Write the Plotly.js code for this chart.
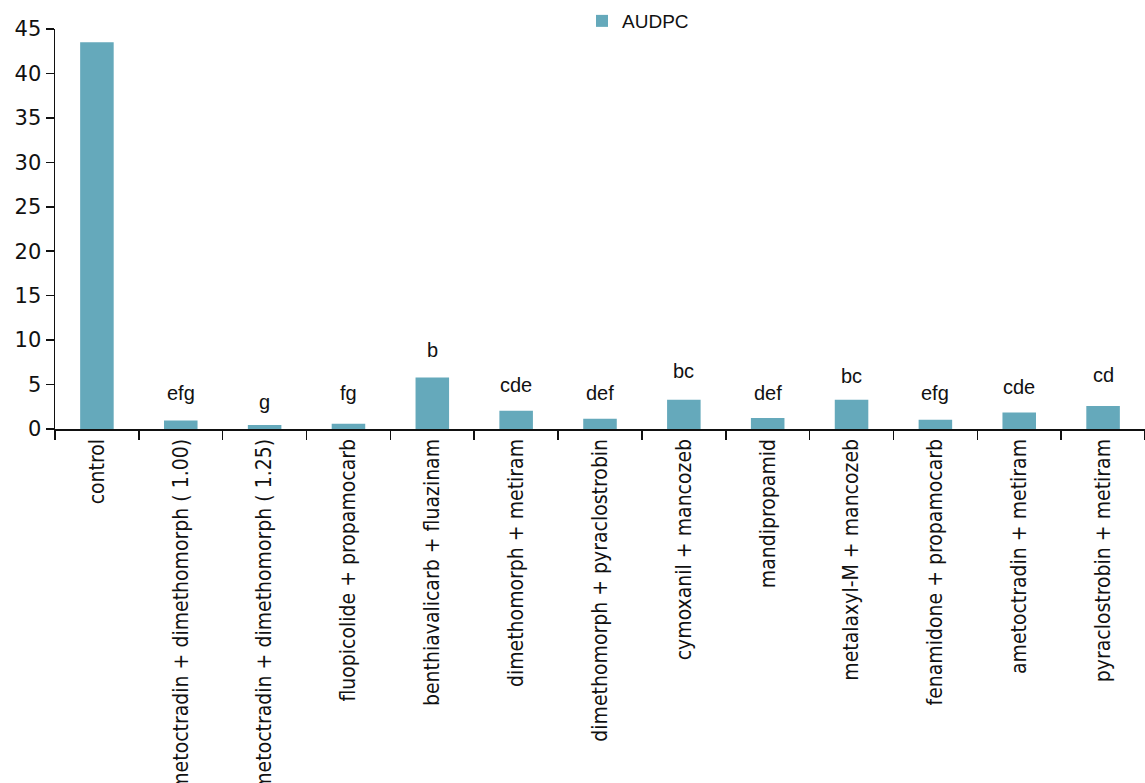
<!DOCTYPE html>
<html>
<head>
<meta charset="utf-8">
<script src="https://cdn.plot.ly/plotly-3.0.1.min.js"></script>
<style>html,body{margin:0;padding:0;background:#fff;overflow:hidden}#chart{width:1145px;height:783px}</style>
</head>
<body>
<div id="chart"></div>
<script>
const categories = [
  "control",
  "ametoctradin + dimethomorph ( 1.00)",
  "ametoctradin + dimethomorph ( 1.25)",
  "fluopicolide + propamocarb",
  "benthiavalicarb + fluazinam",
  "dimethomorph + metiram",
  "dimethomorph + pyraclostrobin",
  "cymoxanil + mancozeb",
  "mandipropamid",
  "metalaxyl-M + mancozeb",
  "fenamidone + propamocarb",
  "ametoctradin + metiram",
  "pyraclostrobin + metiram"
];
const audpc = [43.5, 0.95, 0.45, 0.6, 5.8, 2.05, 1.15, 3.3, 1.25, 3.3, 1.05, 1.85, 2.6];
const letters = ["a", "efg", "g", "fg", "b", "cde", "def", "bc", "def", "bc", "efg", "cde", "cd"];
const letterY = [46.4, 4.0, 3.0, 4.1, 8.9, 5.0, 4.1, 6.5, 4.1, 6.0, 4.1, 4.7, 6.1];
const yTicks = [0, 5, 10, 15, 20, 25, 30, 35, 40, 45];

const trace = {
  type: "bar",
  name: "AUDPC",
  x: categories,
  y: audpc,
  marker: {color: "#65A9BB"},
  showlegend: true
};

const annotations = categories.map((c, i) => ({
  x: c, y: letterY[i], xref: "x", yref: "y",
  text: letters[i], showarrow: false,
  yanchor: "middle", xanchor: "center",
  font: {family: "Liberation Sans, Arial, sans-serif", size: 20, color: "#111"}
}));

const layout = {
  width: 1145, height: 783,
  margin: {l: 55, r: 0, t: 0, b: 354, pad: 0},
  paper_bgcolor: "#fff", plot_bgcolor: "#fff",
  bargap: 0.6,
  showlegend: true,
  legend: {
    orientation: "h", x: 0.4835, xanchor: "left", y: 0.951, yanchor: "middle",
    font: {family: "Liberation Sans, Arial, sans-serif", size: 19, color: "#111"},
    itemwidth: 30, bgcolor: "rgba(0,0,0,0)"
  },
  xaxis: {
    type: "category",
    tickangle: -90,
    ticks: "outside", ticklen: 9, tickwidth: 1.5, tickcolor: "#111",
    tickson: "boundaries",
    showline: true, linecolor: "#111", linewidth: 1.5,
    showgrid: false, zeroline: false,
    tickfont: {family: "DejaVu Sans Condensed, Liberation Sans Narrow, sans-serif", size: 21, color: "#111"},
    automargin: false
  },
  yaxis: {
    range: [0, 45],
    domain: [0, 0.9324],
    tickvals: yTicks,
    ticktext: yTicks.map(String),
    ticks: "outside", ticklen: 8, tickwidth: 1.5, tickcolor: "#111",
    showline: true, linecolor: "#111", linewidth: 1.5,
    showgrid: false, zeroline: false,
    tickfont: {family: "DejaVu Sans, sans-serif", size: 21, color: "#111"},
    automargin: false
  },
  annotations: annotations
};

Plotly.newPlot("chart", [trace], layout, {displayModeBar: false, staticPlot: true});
</script>
</body>
</html>
